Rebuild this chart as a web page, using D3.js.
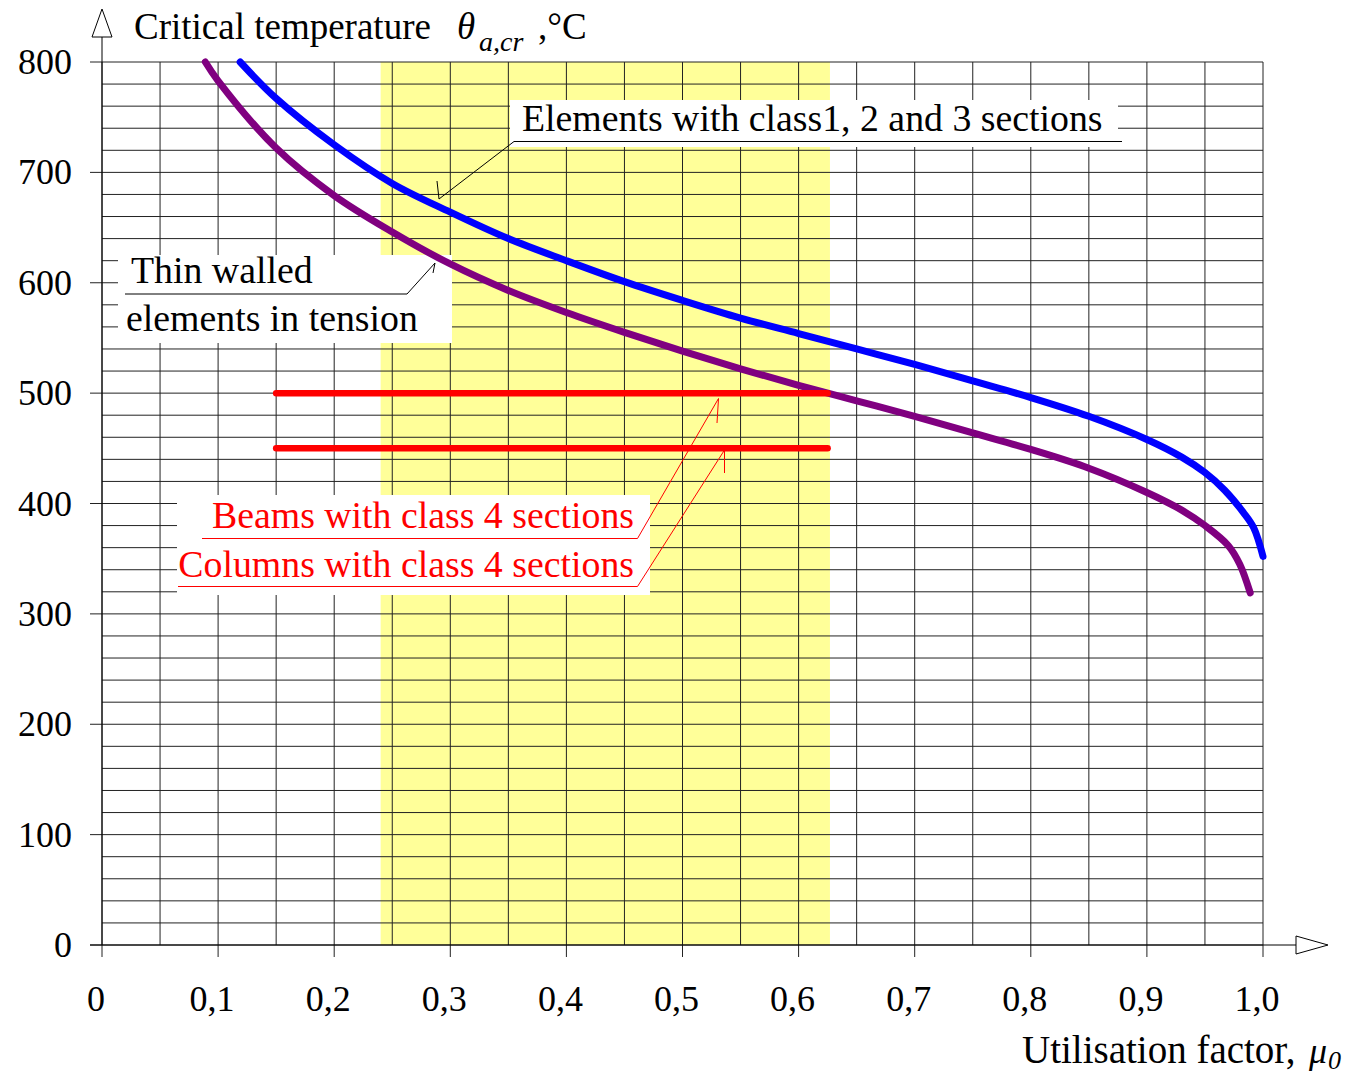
<!DOCTYPE html>
<html>
<head>
<meta charset="utf-8">
<script src="https://cdn.jsdelivr.net/npm/d3@7"></script>
<style>
  body { margin: 0; background: #fff; }
  text { font-family: "Liberation Serif", "DejaVu Serif", "Times New Roman", serif; }
</style>
</head>
<body>
<svg id="chart" width="1353" height="1076"></svg>
<script>
// values
var blueMu   = [0.119, 0.15, 0.2, 0.25, 0.3, 0.35, 0.4, 0.45, 0.5, 0.55, 0.6, 0.65, 0.7, 0.75, 0.8, 0.85, 0.9, 0.93, 0.95, 0.967, 0.983, 0.992, 1.0];
var blueTemp = [800, 767, 725, 690, 664, 640, 620, 601, 584, 568, 554, 540, 526, 511, 496, 479, 458, 442, 428, 412, 392, 378, 352];

var purpleMu   = [0.089, 0.1, 0.15, 0.2, 0.25, 0.3, 0.35, 0.4, 0.45, 0.5, 0.55, 0.6, 0.65, 0.7, 0.75, 0.8, 0.85, 0.9, 0.93, 0.95, 0.97, 0.98, 0.989];
var purpleTemp = [800, 783, 722, 679, 646, 617, 593, 573, 555, 538, 522, 507, 493, 479, 464, 449, 432, 410, 394, 380, 362, 345, 319];

var redLevels = [500, 450];
var redFrom = 0.15, redTo = 0.625;
var bandFrom = 0.24, bandTo = 0.627;

var xTicks = [0, 0.1, 0.2, 0.3, 0.4, 0.5, 0.6, 0.7, 0.8, 0.9, 1.0];
var yTicks = [0, 100, 200, 300, 400, 500, 600, 700, 800];

var svg = d3.select("#chart");

var x = d3.scaleLinear().domain([0, 1]).range([102, 1263]);
var y = d3.scaleLinear().domain([0, 800]).range([945, 62]);

var comma = d3.formatLocale({decimal: ",", thousands: " ", grouping: [3], currency: ["", ""]}).format(".1f");

// yellow band
svg.append("rect")
  .attr("x", x(bandFrom)).attr("y", y(800))
  .attr("width", x(bandTo) - x(bandFrom))
  .attr("height", y(0) - y(800))
  .style("fill", "#ffff99");

// grid
var grid = svg.append("g").attr("class", "grid")
  .style("stroke", "#222").style("stroke-width", 1);

grid.selectAll(".vx").data(d3.range(0, 21).map(function(i){ return i * 0.05; }))
  .enter().append("line")
  .attr("x1", function(d){ return x(d); }).attr("x2", function(d){ return x(d); })
  .attr("y1", y(800)).attr("y2", y(0));

grid.selectAll(".hy").data(d3.range(0, 41).map(function(i){ return i * 20; }))
  .enter().append("line")
  .attr("x1", x(0)).attr("x2", x(1))
  .attr("y1", function(d){ return y(d); }).attr("y2", function(d){ return y(d); });

// ticks sticking out of the axes
grid.selectAll(".ty").data(yTicks).enter().append("line")
  .attr("x1", x(0) - 12).attr("x2", x(0))
  .attr("y1", function(d){ return y(d); }).attr("y2", function(d){ return y(d); });
grid.selectAll(".tx").data(xTicks).enter().append("line")
  .attr("x1", function(d){ return x(d); }).attr("x2", function(d){ return x(d); })
  .attr("y1", y(0)).attr("y2", y(0) + 12);

// axes with open arrow heads
var axes = svg.append("g").style("stroke", "#000").style("stroke-width", 1).style("fill", "#fff");
axes.append("line").attr("x1", x(0)).attr("x2", x(0)).attr("y1", y(0)).attr("y2", 37);
axes.append("path").attr("d", "M" + (x(0) - 10) + ",37 L" + x(0) + ",9 L" + (x(0) + 10) + ",37 Z");
axes.append("line").attr("x1", x(0) - 12).attr("x2", 1296).attr("y1", y(0)).attr("y2", y(0));
axes.append("path").attr("d", "M1296," + (y(0) - 9) + " L1328," + y(0) + " L1296," + (y(0) + 9) + " Z");

// tick labels
svg.selectAll(".ylab").data(yTicks).enter().append("text")
  .attr("x", 72).attr("y", function(d){ return y(d) + 12; })
  .attr("text-anchor", "end")
  .style("font-size", "36px")
  .text(function(d){ return d; });

svg.selectAll(".xlab").data(xTicks).enter().append("text")
  .attr("x", function(d){ return x(d) - 6; }).attr("y", 1011)
  .attr("text-anchor", "middle")
  .style("font-size", "36px")
  .text(function(d){ return d === 0 ? "0" : comma(d); });

// axis titles
svg.append("text").attr("x", 134).attr("y", 39).style("font-size", "37px").text("Critical temperature");
svg.append("text").attr("x", 457).attr("y", 39).style("font-size", "37px").style("font-style", "italic").text("θ");
svg.append("text").attr("x", 479).attr("y", 51).style("font-size", "28px").style("font-style", "italic").text("a,cr");
svg.append("text").attr("x", 538).attr("y", 39).style("font-size", "37px").text(",°C");

svg.append("text").attr("x", 1022).attr("y", 1063).style("font-size", "39px").text("Utilisation factor,");
svg.append("text").attr("x", 1309).attr("y", 1063).style("font-size", "36px").style("font-style", "italic").text("μ");
svg.append("text").attr("x", 1328).attr("y", 1069).style("font-size", "26px").style("font-style", "italic").text("0");

// annotation boxes (cover the grid)
var boxes = svg.append("g").style("fill", "#fff");
boxes.append("rect").attr("x", 510).attr("y", 100).attr("width", 608).attr("height", 47);
boxes.append("rect").attr("x", 118).attr("y", 255).attr("width", 334).attr("height", 88);
boxes.append("rect").attr("x", 177).attr("y", 495).attr("width", 473).attr("height", 100);

// curves
var line = d3.line()
  .x(function(d){ return x(d[0]); })
  .y(function(d){ return y(d[1]); })
  .curve(d3.curveCatmullRom.alpha(0.5));

svg.append("path")
  .datum(d3.zip(blueMu, blueTemp))
  .attr("d", line)
  .style("fill", "none").style("stroke", "#0000ff").style("stroke-width", 7)
  .style("stroke-linecap", "round").style("stroke-linejoin", "round");

svg.append("path")
  .datum(d3.zip(purpleMu, purpleTemp))
  .attr("d", line)
  .style("fill", "none").style("stroke", "#800080").style("stroke-width", 7)
  .style("stroke-linecap", "round").style("stroke-linejoin", "round");

svg.selectAll(".red").data(redLevels).enter().append("line")
  .attr("x1", x(redFrom)).attr("x2", x(redTo))
  .attr("y1", function(d){ return y(d); }).attr("y2", function(d){ return y(d); })
  .style("stroke", "#ff0000").style("stroke-width", 6.5).style("stroke-linecap", "round");

// leaders
var leaders = svg.append("g").style("fill", "none").style("stroke-width", 1);
leaders.append("path").style("stroke", "#000")
  .attr("d", "M1122,141.5 L514,141.5 L439,199 L437,181");
leaders.append("path").style("stroke", "#000")
  .attr("d", "M125,294 L407,294 L435,263 L433,273");
leaders.append("path").style("stroke", "#ff0000")
  .attr("d", "M202,538.5 L637.5,538.5 L718.5,398.5 L717,423");
leaders.append("path").style("stroke", "#ff0000")
  .attr("d", "M178,586.5 L637.5,586.5 L724.5,450 L724.5,473");

// annotation texts
svg.append("text").attr("x", 522).attr("y", 131).style("font-size", "37.8px")
  .text("Elements with class1, 2 and 3 sections");
svg.append("text").attr("x", 131).attr("y", 283).style("font-size", "37.8px").text("Thin walled");
svg.append("text").attr("x", 126).attr("y", 331).style("font-size", "37.8px").text("elements in tension");
svg.append("text").attr("x", 634).attr("y", 528).attr("text-anchor", "end")
  .style("font-size", "37.8px").style("fill", "#ff0000").text("Beams with class 4 sections");
svg.append("text").attr("x", 634).attr("y", 577).attr("text-anchor", "end")
  .style("font-size", "37.8px").style("fill", "#ff0000").text("Columns with class 4 sections");
</script>
</body>
</html>
